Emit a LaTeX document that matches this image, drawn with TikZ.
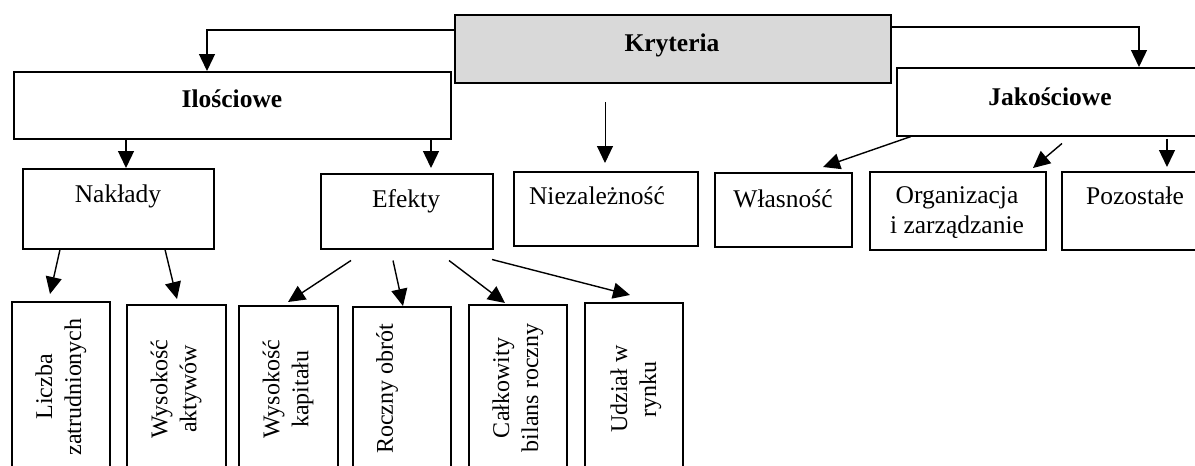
\documentclass[tikz,border=0pt]{standalone}
\usepackage{fontspec}
\setmainfont{Liberation Serif}
\usetikzlibrary{arrows.meta,calc}
\definecolor{krytgray}{RGB}{217,217,217}
\begin{document}
\begin{tikzpicture}[x=1pt, y=-1pt, >={Triangle[length=17pt,width=16pt]},
    box/.style={draw, line width=1.5pt, inner sep=0pt, anchor=north west},
    lbl/.style={inner sep=0pt, anchor=base, font=\fontsize{25.5}{30}\selectfont, align=center},
    vlbl/.style={inner sep=0pt, rotate=90, font=\fontsize{24}{29}\selectfont, align=center},
    arr/.style={->, line width=1.4pt}]
    \useasboundingbox (0,0) rectangle (1195,466);
    \clip (0,0) rectangle (1195,466);
    \node [box, fill=krytgray, minimum width=436pt, minimum height=68pt] (kryt) at (454,14) {};
    \node [box, minimum width=437pt, minimum height=67pt] (ilo)  at (13,71)   {};
    \node [box, minimum width=310pt, minimum height=68pt] (jak)  at (896,67)  {};
    \node [box, minimum width=191pt, minimum height=80pt] (nakl) at (22,168)  {};
    \node [box, minimum width=172pt, minimum height=75pt] (efek) at (320,173) {};
    \node [box, minimum width=184pt, minimum height=74pt] (niez) at (513,171) {};
    \node [box, minimum width=137pt, minimum height=74pt] (wlas) at (714,172) {};
    \node [box, minimum width=176pt, minimum height=78pt] (org)  at (869,171) {};
    \node [box, minimum width=150pt, minimum height=78pt] (poz)  at (1061,171) {};
    \node [box, minimum width=98pt, minimum height=180pt] (licz) at (11,301)  {};
    \node [box, minimum width=99pt, minimum height=180pt] (wakt) at (126,304) {};
    \node [box, minimum width=99pt, minimum height=180pt] (wkap) at (238,305) {};
    \node [box, minimum width=98pt, minimum height=180pt] (rocz) at (352,306) {};
    \node [box, minimum width=98pt, minimum height=180pt] (calk) at (468,304) {};
    \node [box, minimum width=98pt, minimum height=180pt] (udz)  at (584,302) {};
    \node [lbl, font=\fontsize{25.5}{30}\selectfont\bfseries] (krytT) at (672,51)  {Kryteria};
    \node [lbl, font=\fontsize{25.5}{30}\selectfont\bfseries] (iloT)  at (232,107) {Ilościowe};
    \node [lbl, font=\fontsize{25.5}{30}\selectfont\bfseries] (jakT)  at (1050,105) {Jakościowe};
    \node [lbl] (naklT) at (118,202) {Nakłady};
    \node [lbl] (efekT) at (406,207) {Efekty};
    \node [lbl] (niezT) at (597,204) {Niezależność};
    \node [lbl] (wlasT) at (783,207) {Własność};
    \node [lbl] (orgT)  at (957,233) {Organizacja\\i zarządzanie};
    \node [lbl] (pozT)  at (1135,204) {Pozostałe};
    \node [vlbl] (liczT) at (61,387)  {Liczba\\zatrudnionych};
    \node [vlbl] (waktT) at (176,389) {Wysokość\\aktywów};
    \node [vlbl] (wkapT) at (288,389) {Wysokość\\kapitału};
    \node [vlbl] (roczT) at (387,389) {Roczny obrót};
    \node [vlbl] (calkT) at (518,388) {Całkowity\\bilans roczny};
    \node [vlbl] (udzT)  at (636,389) {Udział w\\rynku};
    \coordinate (niezTop) at (605,102);
    \draw [arr] ($(kryt.north west)+(0,16)$) -| ($(ilo.north west)+(194,0)$);
    \draw [arr] ($(kryt.north east)+(0,13)$) -| ($(jak.north west)+(243,0)$);
    \draw [arr] ($(ilo.south west)+(113,0)$) -- ($(nakl.north west)+(104,0)$);
    \draw [arr] ($(ilo.south west)+(418,0)$) -- ($(efek.north west)+(111,-5)$);
    \draw [arr, line width=1pt] (niezTop) -- ($(niez.north west)+(92,-8)$);
    \draw [arr] ($(jak.south west)+(15,0)$) -- ($(wlas.north west)+(109,-5)$);
    \draw [arr] ($(jak.south west)+(166,7)$) -- ($(org.north west)+(164,-3)$);
    \draw [arr] ($(jak.south west)+(271,2)$) -- ($(poz.north west)+(106,-4)$);
    \draw [arr] ($(nakl.south west)+(38,0)$) -- ($(licz.north west)+(39,-7)$);
    \draw [arr] ($(nakl.south west)+(143,0)$) -- ($(wakt.north west)+(51,-5)$);
    \draw [arr] ($(efek.south west)+(31,11)$) -- ($(wkap.north west)+(50,-3)$);
    \draw [arr] ($(efek.south west)+(73,11)$) -- ($(rocz.north west)+(51,0)$);
    \draw [arr] ($(efek.south west)+(129,11)$) -- ($(calk.north west)+(37,-1)$);
    \draw [arr] ($(efek.south west)+(172,10)$) -- ($(udz.north west)+(46,-7)$);
\end{tikzpicture}
\end{document}
